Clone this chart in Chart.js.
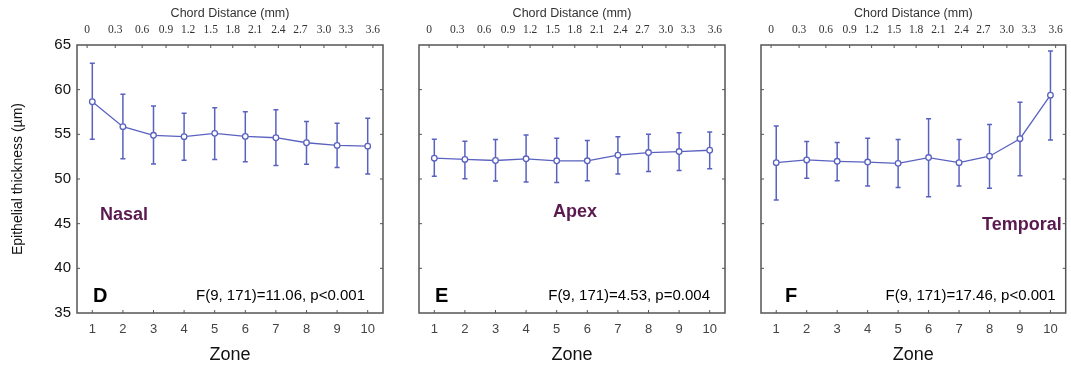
<!DOCTYPE html>
<html>
<head>
<meta charset="utf-8">
<script src="https://cdn.jsdelivr.net/npm/chart.js@4.4.1/dist/chart.umd.min.js"></script>
<style>
  html, body { margin: 0; padding: 0; background: #fff; }
  #wrap { position: relative; width: 1071px; height: 370px; }
  .panel { position: absolute; top: 0; height: 370px; }
</style>
</head>
<body>
<div id="wrap">
  <div class="panel" style="left:0;width:400px"><canvas id="chartD"></canvas></div>
  <div class="panel" style="left:400px;width:340px"><canvas id="chartE"></canvas></div>
  <div class="panel" style="left:740px;width:331px"><canvas id="chartF"></canvas></div>
</div>
<script>
// 공통 축 데이터
const zones = ['1', '2', '3', '4', '5', '6', '7', '8', '9', '10'];
const chordLabels = ['0', '0.3', '0.6', '0.9', '1.2', '1.5', '1.8', '2.1', '2.4', '2.7', '3.0', '3.3', '3.6'];
// chord distance label positions, in zone units
const chordPos = [0.83, 1.75, 2.63, 3.41, 4.13, 4.87, 5.59, 6.32, 7.08, 7.8, 8.57, 9.29, 10.17];
const yTicks = [35, 40, 45, 50, 55, 60, 65];

// Nasal (D)
const nasalMean = [58.65, 55.86, 54.89, 54.74, 55.11, 54.77, 54.62, 54.06, 53.76, 53.68];
const nasalHigh = [62.97, 59.5, 58.16, 57.37, 57.97, 57.52, 57.74, 56.43, 56.24, 56.8];
const nasalLow = [54.44, 52.26, 51.69, 52.1, 52.18, 51.92, 51.5, 51.65, 51.28, 50.56];

// Apex (E)
const apexMean = [52.33, 52.19, 52.07, 52.26, 52.04, 52.04, 52.67, 52.96, 53.07, 53.22];
const apexHigh = [54.44, 54.22, 54.41, 54.93, 54.56, 54.3, 54.74, 55.0, 55.19, 55.26];
const apexLow = [50.3, 50.04, 49.78, 49.67, 49.6, 49.81, 50.56, 50.85, 50.96, 51.15];

// Temporal (F)
const tempMean = [51.83, 52.13, 51.98, 51.9, 51.75, 52.4, 51.83, 52.55, 54.51, 59.38];
const tempHigh = [55.94, 54.2, 54.09, 54.55, 54.43, 56.74, 54.43, 56.09, 58.58, 64.32];
const tempLow = [47.64, 50.09, 49.8, 49.23, 49.04, 48.02, 49.23, 48.96, 50.36, 54.36];

const BLUE = '#5a62c0';
const PURPLE = '#5a1a50';
const FRAME = '#555';

// 오차 막대 + 테두리 + 주석
const panelPlugin = {
    id: 'panelPlugin',
    beforeDatasetsDraw(chart) {
        const o = chart.options.plugins.panelPlugin;
        const y = chart.scales.y;
        const meta = chart.getDatasetMeta(0);
        const ctx = chart.ctx;
        ctx.save();
        ctx.strokeStyle = BLUE;
        ctx.lineWidth = 1.5;
        meta.data.forEach((pt, i) => {
            const yh = y.getPixelForValue(o.high[i]);
            const yl = y.getPixelForValue(o.low[i]);
            ctx.beginPath();
            ctx.moveTo(pt.x, yh); ctx.lineTo(pt.x, yl);
            ctx.moveTo(pt.x - 2.5, yh); ctx.lineTo(pt.x + 2.5, yh);
            ctx.moveTo(pt.x - 2.5, yl); ctx.lineTo(pt.x + 2.5, yl);
            ctx.stroke();
        });
        ctx.restore();
    },
    afterDraw(chart) {
        const o = chart.options.plugins.panelPlugin;
        const a = chart.chartArea;
        const ctx = chart.ctx;
        ctx.save();
        ctx.strokeStyle = FRAME;
        ctx.lineWidth = 1.5;
        ctx.strokeRect(a.left, a.top, a.right - a.left, a.bottom - a.top);
        ctx.lineWidth = 1;
        ctx.beginPath();
        chart.scales.y.ticks.forEach(t => {
            const py = chart.scales.y.getPixelForValue(t.value);
            if (py <= a.top + 1 || py >= a.bottom - 1) return;
            ctx.moveTo(a.left, py); ctx.lineTo(a.left + 3, py);
            ctx.moveTo(a.right, py); ctx.lineTo(a.right - 3, py);
        });
        chart.scales.x.ticks.forEach((t, i) => {
            const px = chart.scales.x.getPixelForTick(i);
            ctx.moveTo(px, a.bottom); ctx.lineTo(px, a.bottom - 3);
        });
        chart.scales.x2.ticks.forEach(t => {
            const px = chart.scales.x2.getPixelForValue(t.value);
            ctx.moveTo(px, a.top); ctx.lineTo(px, a.top + 3);
        });
        ctx.stroke();

        ctx.textBaseline = 'middle';
        // region name
        ctx.fillStyle = PURPLE;
        ctx.font = 'bold 18px Arial, "Liberation Sans", sans-serif';
        ctx.textAlign = o.nameAlign;
        const nx = o.nameAlign === 'right' ? a.right + o.nameX : a.left + o.nameX;
        ctx.fillText(o.name, nx, o.nameY);
        // panel letter
        ctx.fillStyle = '#000';
        ctx.font = 'bold 20px Arial, "Liberation Sans", sans-serif';
        ctx.textAlign = 'left';
        ctx.fillText(o.letter, a.left + o.letterX, 296);
        // statistics
        ctx.font = '15px Arial, "Liberation Sans", sans-serif';
        ctx.textAlign = 'right';
        ctx.fillText(o.stat, a.right + o.statX, 296);
        ctx.restore();
    }
};

function makePanel(id, cfg) {
    const mean = cfg.mean;
    new Chart(document.getElementById(id), {
        type: 'line',
        data: {
            labels: zones,
            datasets: [{
                data: mean,
                borderColor: BLUE,
                borderWidth: 1.3,
                backgroundColor: '#fff',
                pointBackgroundColor: '#fff',
                pointBorderColor: BLUE,
                pointBorderWidth: 1.3,
                pointRadius: 2.8,
                tension: 0
            }]
        },
        options: {
            responsive: true,
            maintainAspectRatio: false,
            animation: false,
            layout: { padding: { left: 0, right: cfg.padRight, top: 0, bottom: 0 } },
            plugins: {
                legend: { display: false },
                tooltip: { enabled: false },
                panelPlugin: cfg
            },
            scales: {
                x: {
                    type: 'category',
                    position: 'bottom',
                    offset: true,
                    grid: { display: false, drawTicks: false },
                    border: { display: false },
                    ticks: {
                        color: '#444',
                        padding: 9,
                        maxRotation: 0,
                        autoSkip: false,
                        font: { family: 'Arial, "Liberation Sans", sans-serif', size: 13 }
                    },
                    title: {
                        display: true,
                        text: 'Zone',
                        color: '#111',
                        padding: { top: 0, bottom: 4 },
                        font: { family: 'Arial, "Liberation Sans", sans-serif', size: 18 }
                    },
                    afterFit: s => { s.height = 57; }
                },
                x2: {
                    type: 'linear',
                    position: 'top',
                    min: 0.5,
                    max: 10.5,
                    grid: { display: false, drawTicks: false },
                    border: { display: false },
                    afterBuildTicks: s => { s.ticks = chordPos.map(v => ({ value: v })); },
                    ticks: {
                        color: '#333',
                        padding: 8,
                        maxRotation: 0,
                        autoSkip: false,
                        font: { family: '"Liberation Serif", "DejaVu Serif", serif', size: 11.5 },
                        callback: (v, i) => chordLabels[i]
                    },
                    title: {
                        display: true,
                        text: 'Chord Distance (mm)',
                        color: '#333',
                        padding: { top: 6, bottom: 0 },
                        font: { family: 'Arial, "Liberation Sans", sans-serif', size: 12.5 }
                    },
                    afterFit: s => { s.height = 45; }
                },
                y: {
                    min: 35,
                    max: 65,
                    grid: { display: false, drawTicks: false },
                    border: { display: false },
                    afterBuildTicks: s => { s.ticks = yTicks.map(v => ({ value: v })); },
                    ticks: {
                        display: cfg.showY,
                        color: '#111',
                        padding: 6,
                        font: { family: 'Arial, "Liberation Sans", sans-serif', size: 15 }
                    },
                    title: {
                        display: cfg.showY,
                        text: 'Epithelial thickness (µm)',
                        color: '#111',
                        padding: { top: 10, bottom: 0 },
                        font: { family: 'Arial, "Liberation Sans", sans-serif', size: 14 }
                    },
                    afterFit: s => { s.width = cfg.axisW; }
                }
            }
        },
        plugins: [panelPlugin]
    });
}

makePanel('chartD', {
    mean: nasalMean, high: nasalHigh, low: nasalLow,
    showY: true, axisW: 77, padRight: 17,
    name: 'Nasal', nameAlign: 'left', nameX: 23, nameY: 215,
    letter: 'D', letterX: 16,
    stat: 'F(9, 171)=11.06, p<0.001', statX: -18
});
makePanel('chartE', {
    mean: apexMean, high: apexHigh, low: apexLow,
    showY: false, axisW: 19, padRight: 15,
    name: 'Apex', nameAlign: 'left', nameX: 134, nameY: 212,
    letter: 'E', letterX: 16,
    stat: 'F(9, 171)=4.53, p=0.004', statX: -15
});
makePanel('chartF', {
    mean: tempMean, high: tempHigh, low: tempLow,
    showY: false, axisW: 21, padRight: 5,
    name: 'Temporal', nameAlign: 'right', nameX: -4, nameY: 225,
    letter: 'F', letterX: 24,
    stat: 'F(9, 171)=17.46, p<0.001', statX: -10
});
</script>
</body>
</html>
